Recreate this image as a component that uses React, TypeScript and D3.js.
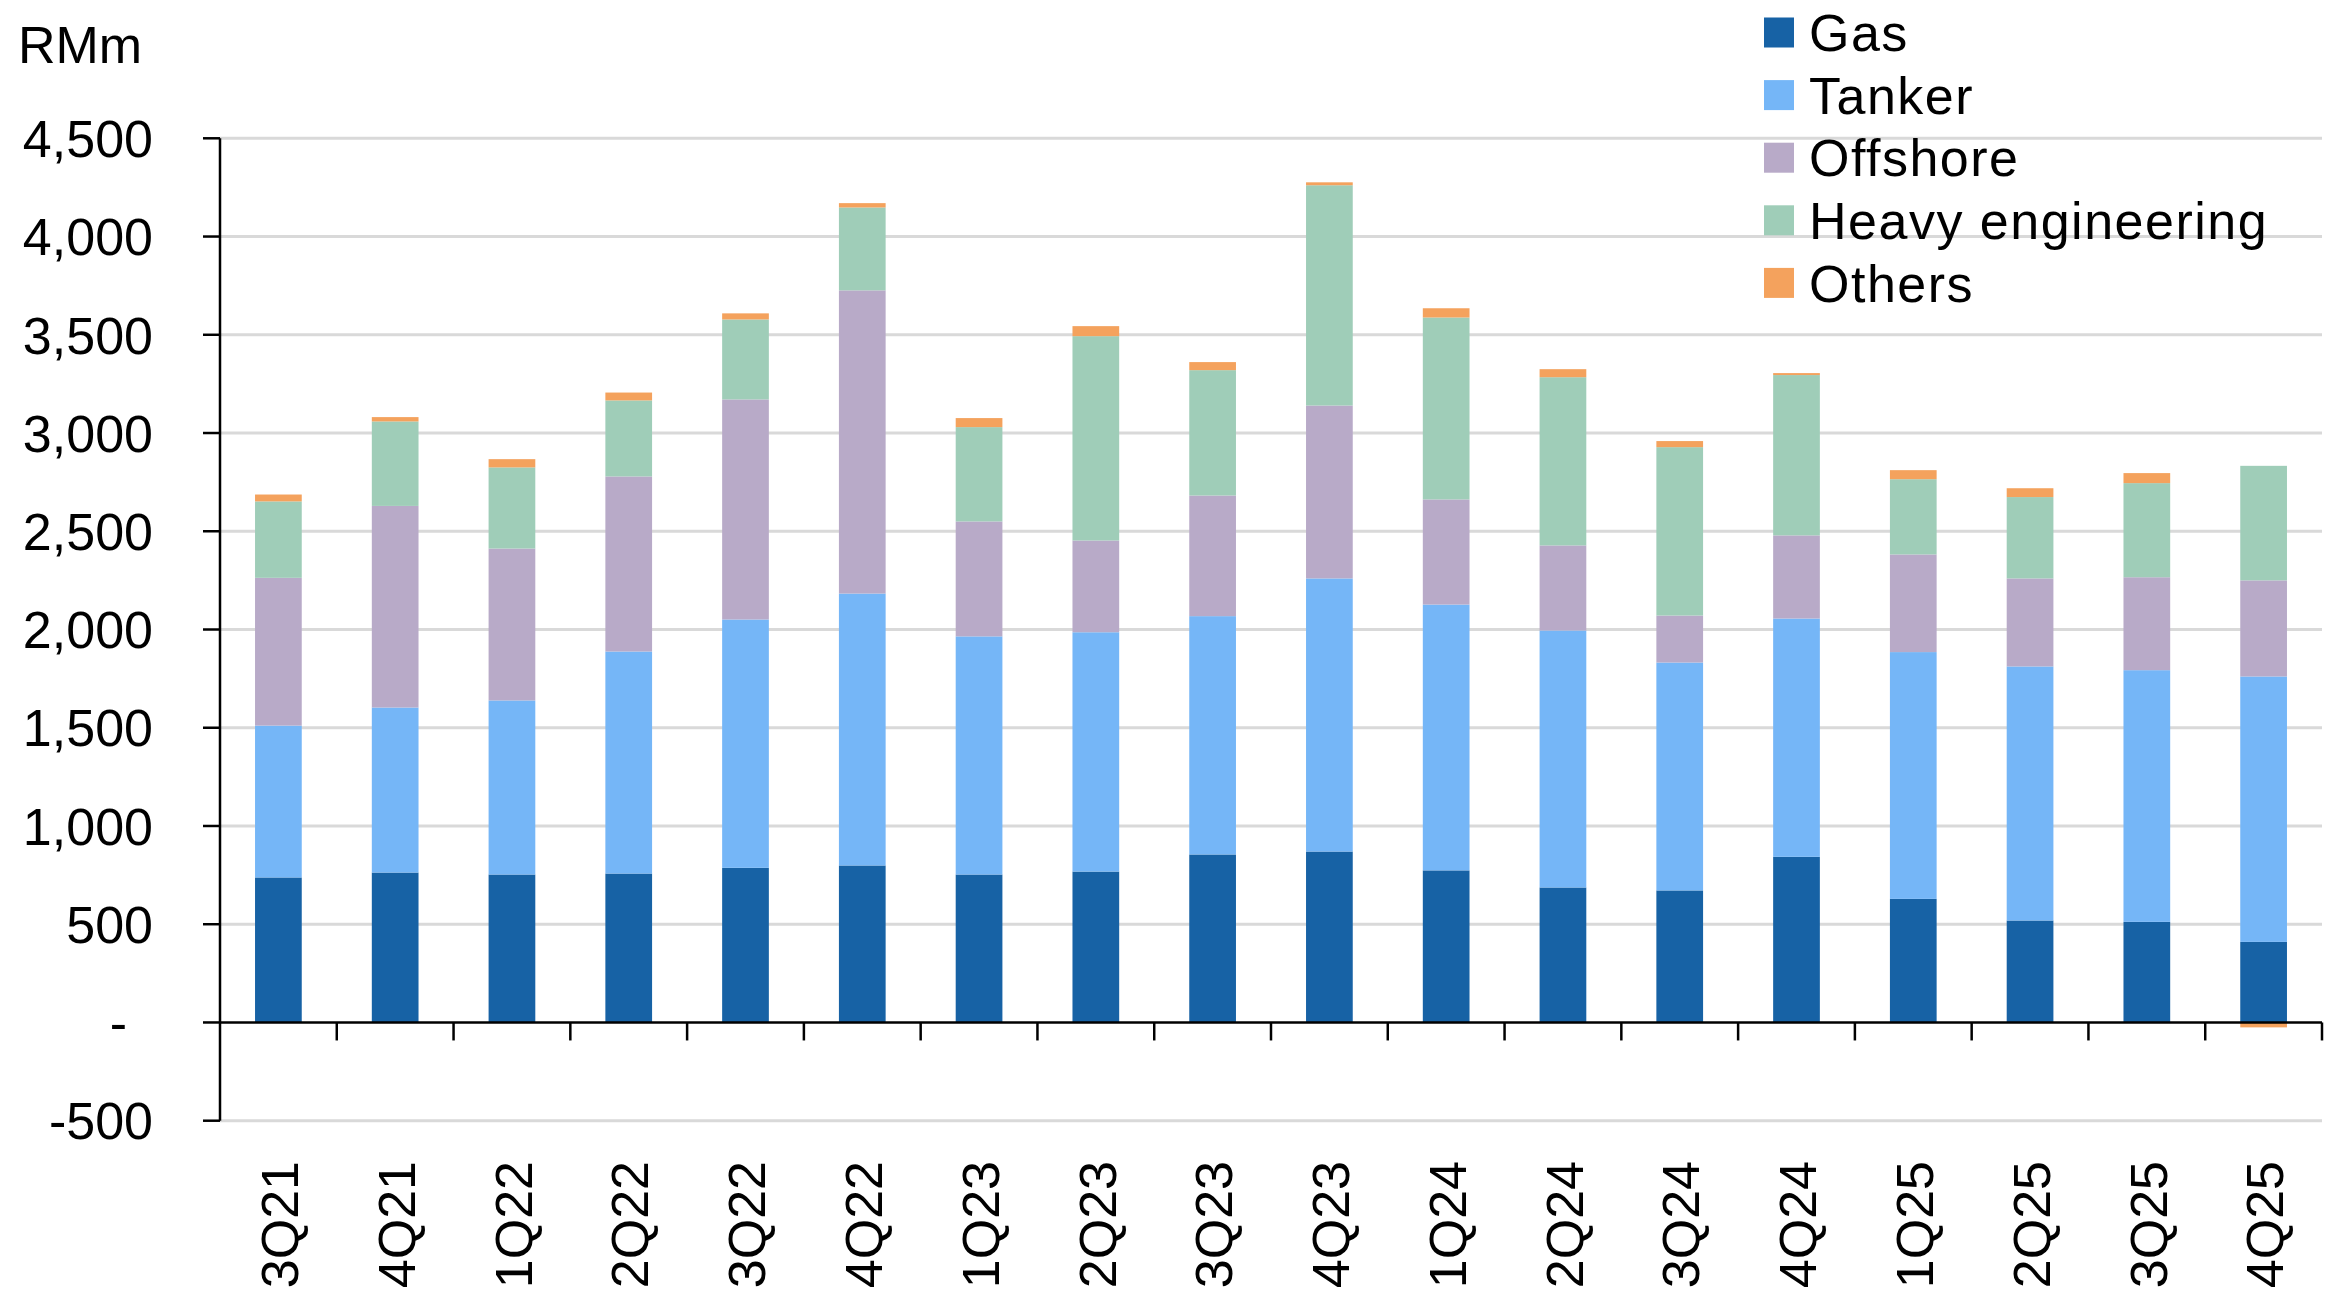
import * as d3 from "d3";

const quarters = ["3Q21", "4Q21", "1Q22", "2Q22", "3Q22", "4Q22", "1Q23", "2Q23", "3Q23", "4Q23", "1Q24", "2Q24", "3Q24", "4Q24", "1Q25", "2Q25", "3Q25", "4Q25"];
const gas = [738, 763, 753, 758, 787, 799, 753, 768, 855, 870, 774, 687, 672, 843, 629, 519, 512, 410];
const tanker = [773, 840, 886, 1130, 1264, 1384, 1212, 1218, 1213, 1390, 1353, 1308, 1160, 1213, 1256, 1293, 1281, 1351];
const offshore = [752, 1026, 773, 891, 1120, 1543, 585, 467, 614, 880, 535, 433, 239, 423, 497, 448, 473, 489];
const heavyEngineering = [389, 430, 413, 387, 407, 422, 480, 1040, 638, 1121, 926, 856, 857, 816, 383, 414, 479, 583];
const others = [35, 22, 42, 40, 31, 22, 46, 51, 41, 15, 47, 41, 31, 10, 46, 45, 51, -25];

const seriesNames = ["Gas", "Tanker", "Offshore", "Heavy engineering", "Others"];
const seriesValues = [gas, tanker, offshore, heavyEngineering, others];
const colors = ["#1762a5", "#75b6f7", "#b8aac8", "#9fcdb8", "#f4a25d"];
const yTicks = [-500, 0, 500, 1000, 1500, 2000, 2500, 3000, 3500, 4000, 4500];

export default function App() {
  const width = 2339;
  const height = 1300;
  const left = 220;
  const right = 2322;
  const top = 138.3;
  const bottom = 1120.7;
  const font = "'Liberation Sans', Arial, sans-serif";
  const fs = 52;

  const rows = quarters.map((q, i) => {
    const r: any = { q };
    seriesNames.forEach((s, j) => (r[s] = seriesValues[j][i]));
    return r;
  });
  const stacked = d3.stack().keys(seriesNames).offset(d3.stackOffsetDiverging)(rows);

  const x = d3.scaleBand().domain(quarters).range([left, right]).padding(0);
  const y = d3.scaleLinear().domain([-500, 4500]).range([bottom, top]);
  const barW = x.bandwidth() * 0.4;
  const fmt = (v: number) => (v === 0 ? "-\u2002" : d3.format(",")(v).replace("\u2212", "-"));

  return (
    <svg width={width} height={height} style={{ position: "absolute", left: 0, top: 0, background: "#fff" }} fontFamily={font}>
      <text x={18} y={63} fontSize={fs} fill="#000">RMm</text>
      {yTicks.map((t) => (
        <g key={t}>
          {t !== 0 && <line x1={left} x2={right} y1={y(t)} y2={y(t)} stroke="#d9d9d9" strokeWidth={3} />}
          <line x1={left - 17} x2={left} y1={y(t)} y2={y(t)} stroke="#000" strokeWidth={2.5} />
          <text x={153} y={y(t)} dy="0.36em" textAnchor="end" fontSize={fs} fill="#000">{fmt(t)}</text>
        </g>
      ))}
      {stacked.map((layer, j) => (
        <g key={layer.key} fill={colors[j]}>
          {layer.map((d, i) => (
            <rect
              key={i}
              x={(x(quarters[i]) as number) + (x.bandwidth() - barW) / 2}
              y={y(Math.max(d[0], d[1]))}
              width={barW}
              height={Math.abs(y(d[0]) - y(d[1]))}
            />
          ))}
        </g>
      ))}
      <line x1={left} x2={left} y1={top} y2={bottom} stroke="#000" strokeWidth={2.5} />
      <line x1={left} x2={right} y1={y(0)} y2={y(0)} stroke="#000" strokeWidth={2.5} />
      {quarters.map((q) => (
        <line key={q} x1={(x(q) as number) + x.bandwidth()} x2={(x(q) as number) + x.bandwidth()} y1={y(0)} y2={y(0) + 18} stroke="#000" strokeWidth={2.5} />
      ))}
      {quarters.map((q) => (
        <text
          key={q}
          transform={`translate(${(x(q) as number) + x.bandwidth() / 2},1161) rotate(-90)`}
          dy="0.38em"
          textAnchor="end"
          fontSize={fs}
          fill="#000"
        >
          {q}
        </text>
      ))}
      {seriesNames.map((s, j) => (
        <g key={s} transform={`translate(1764,${32.5 + j * 62.6})`}>
          <rect x={0} y={-15} width={30} height={30} fill={colors[j]} />
          <text x={45} y={0} dy="0.36em" fontSize={fs} letterSpacing={1.5} fill="#000">{s}</text>
        </g>
      ))}
    </svg>
  );
}
